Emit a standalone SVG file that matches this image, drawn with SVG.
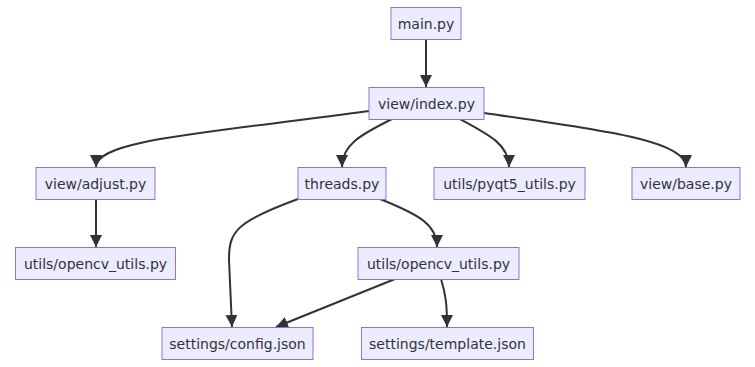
<svg xmlns="http://www.w3.org/2000/svg" width="755" height="367" viewBox="0 0 755 367">
  <style>
    .node rect { fill: #ECECFF; stroke: #9370DB; stroke-width: 1; }
    .node text { font-family: "DejaVu Sans", Verdana, sans-serif; font-size: 14px; fill: #333; text-anchor: middle; dominant-baseline: central; }
    .edge { fill: none; stroke: #333; stroke-width: 2; marker-end: url(#arrow); }
  </style>
  <defs>
    <marker id="arrow" viewBox="0 0 10 10" refX="10" refY="5" markerUnits="userSpaceOnUse" markerWidth="12" markerHeight="12" orient="auto">
      <path d="M0,0 L10,5 L0,10 z" fill="#333"/>
    </marker>
  </defs>
  <rect width="755" height="367" fill="#ffffff"/>

  <g id="connectors">
    <path class="edge" d="M426,40 L426,87"/>
    <path class="edge" d="M369,111 C200,134 96,140 96,167"/>
    <path class="edge" d="M392,119 C360,135 342,145 342,167"/>
    <path class="edge" d="M460,119 C490,135 509,145 509,167"/>
    <path class="edge" d="M484,113 C600,130 686,140 686,167"/>
    <path class="edge" d="M96,199 L96,247"/>
    <path class="edge" d="M298,199 C235,222 229,232 229,260 L232,327"/>
    <path class="edge" d="M380,199 C420,215 437,225 437,247"/>
    <path class="edge" d="M395,279 L276,327"/>
    <path class="edge" d="M441,279 C446,295 447,305 447,327"/>
  </g>

  <g id="main" class="node"><rect x="391" y="7.5" width="70" height="32"/><text x="426" y="23.5">main.py</text></g>
  <g id="index" class="node"><rect x="369" y="87.5" width="115" height="32"/><text x="426.5" y="103.5">view/index.py</text></g>
  <g id="adjust" class="node"><rect x="36" y="167.5" width="119" height="32"/><text x="95.5" y="183.5">view/adjust.py</text></g>
  <g id="threads" class="node"><rect x="298" y="167.5" width="88" height="32"/><text x="342" y="183.5">threads.py</text></g>
  <g id="pyqt5" class="node"><rect x="434" y="167.5" width="151" height="32"/><text x="509.5" y="183.5">utils/pyqt5_utils.py</text></g>
  <g id="base" class="node"><rect x="632" y="167.5" width="108" height="32"/><text x="686" y="183.5">view/base.py</text></g>
  <g id="opencv1" class="node"><rect x="15.5" y="247.5" width="160" height="32"/><text x="95.5" y="263.5">utils/opencv_utils.py</text></g>
  <g id="opencv2" class="node"><rect x="358" y="247.5" width="161" height="32"/><text x="438.5" y="263.5">utils/opencv_utils.py</text></g>
  <g id="config" class="node"><rect x="162" y="327.5" width="151" height="32"/><text x="237.5" y="343.5">settings/config.json</text></g>
  <g id="template" class="node"><rect x="361.5" y="327.5" width="172" height="32"/><text x="447.5" y="343.5">settings/template.json</text></g>
</svg>
